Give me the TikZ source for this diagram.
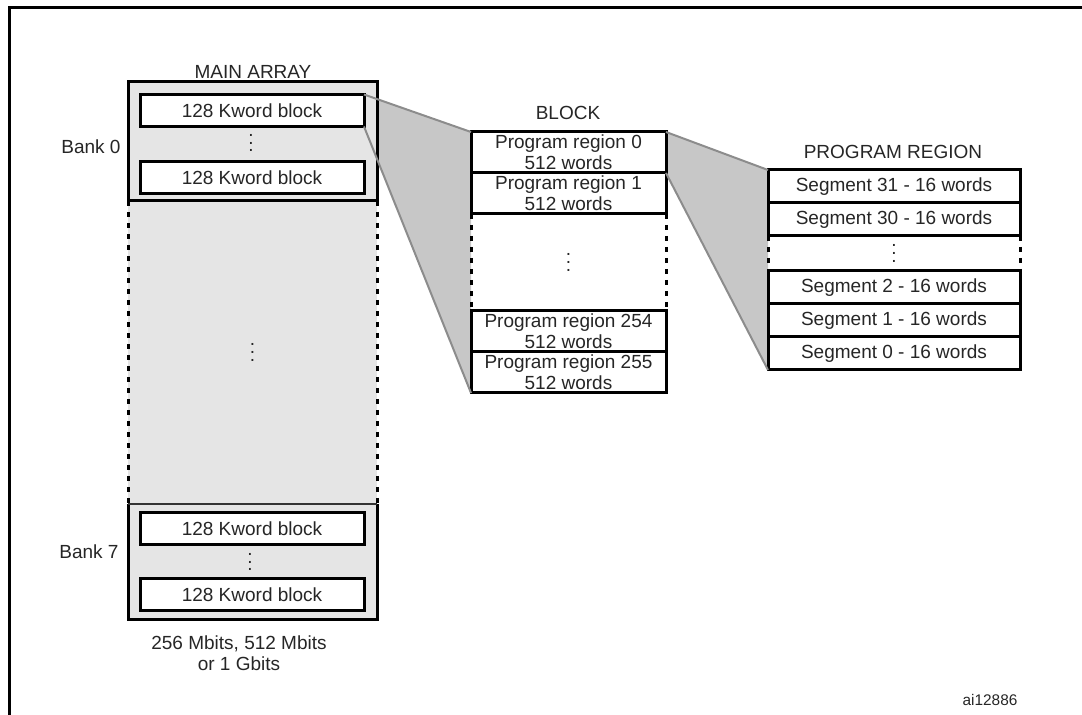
\documentclass[tikz,border=0pt]{standalone}
\usepackage{fontspec}
\setmainfont{Liberation Sans}
\usetikzlibrary{positioning, backgrounds}
\tikzstyle{bank} = [rectangle, fill=black!10, draw=black, line width=1.5pt, minimum width=124.5pt, inner sep=0pt, outer sep=0pt]
\tikzstyle{kblock} = [rectangle, fill=white, draw=black, line width=1.5pt, minimum width=112pt, minimum height=16pt, inner sep=0pt, outer sep=0pt]
\tikzstyle{region} = [rectangle, fill=white, draw=black, line width=1.5pt, minimum width=97.5pt, minimum height=20.5pt, inner sep=0pt, outer sep=0pt, align=center]
\tikzstyle{segment} = [rectangle, fill=white, draw=black, line width=1.5pt, minimum width=126pt, minimum height=16.5pt, inner sep=0pt, outer sep=0pt]
\tikzstyle{gapbox} = [rectangle, inner sep=0pt, outer sep=0pt]
\tikzstyle{dotmark} = [inner sep=0pt, outer sep=0pt]
\tikzstyle{dashside} = [line width=1.5pt, dash pattern=on 2.75pt off 2.75pt]
\tikzstyle{fan} = [fill=black!22]
\tikzstyle{fanedge} = [draw=black!45, line width=1pt]
\newcommand{\vdotsmark}{\vbox{\baselineskip=3.8pt\lineskiplimit=0pt\hbox{.}\hbox{.}\hbox{.}}}

\begin{document}
\begin{tikzpicture}[x=0.5pt, y=-0.5pt, font=\fontsize{9.5}{10.5}\selectfont, text=black!85]

    \useasboundingbox (0,0) rectangle (1082,715);

    \draw [line width=1.5pt] (9,715) -- (9,7.5) -- (1082,7.5);

    % main array
    \node (mid) [bank, draw=none, minimum height=151.5pt] at (252.5,352.5) {\vdotsmark};
    \node (bank0) [bank, minimum height=59.5pt, above=0pt of mid] {};
    \node (bank7) [bank, draw=none, minimum height=58pt, below=0pt of mid] {};

    \draw [dashside] (mid.north west) -- (mid.south west);
    \draw [dashside] (mid.north east) -- (mid.south east);
    \draw [line width=1.5pt] (bank7.north west) -- (bank7.south west) -- (bank7.south east) -- (bank7.north east);
    \draw [line width=1pt, black!80] (bank7.north west) -- (bank7.north east);

    \node (kw0a) [kblock] at (252,110.5) {128 Kword block};
    \node (dots0) [dotmark] at (251,143) {\vdotsmark};
    \node (kw0b) [kblock] at (252,178) {128 Kword block};
    \node (kw7a) [kblock] at (252,529) {128 Kword block};
    \node (dots7) [dotmark] at (250,562) {\vdotsmark};
    \node (kw7b) [kblock] at (252,594.5) {128 Kword block};

    \node (mainlbl) at (253,72) {MAIN ARRAY};
    \node (bank0lbl) at (91,147) {Bank 0};
    \node (bank7lbl) at (89,552) {Bank 7};
    \node (sizelbl) [align=center] at (239,653.5) {256 Mbits, 512 Mbits\\or 1 Gbits};

    % block
    \node (blocklbl) at (568,113) {BLOCK};
    \node (r0) [region] at (568.5,152.5) {Program region 0\\512 words};
    \node (r1) [region, below=0pt of r0] {Program region 1\\512 words};
    \node (bgap) [gapbox, minimum width=97.5pt, minimum height=48.5pt, below=0pt of r1] {\vdotsmark};
    \node (r254) [region, below=0pt of bgap] {Program region 254\\512 words};
    \node (r255) [region, below=0pt of r254] {Program region 255\\512 words};

    \draw [dashside] (bgap.north west) -- (bgap.south west);
    \draw [dashside] (bgap.north east) -- (bgap.south east);

    % program region
    \node (prlbl) at (893,152) {PROGRAM REGION};
    \node (s31) [segment] at (894,186.5) {Segment 31 - 16 words};
    \node (s30) [segment, below=0pt of s31] {Segment 30 - 16 words};
    \node (sgap) [gapbox, minimum width=126pt, minimum height=17.5pt, below=0pt of s30] {\vdotsmark};
    \node (s2) [segment, below=0pt of sgap] {Segment 2 - 16 words};
    \node (s1) [segment, below=0pt of s2] {Segment 1 - 16 words};
    \node (s0) [segment, below=0pt of s1] {Segment 0 - 16 words};

    \draw [dashside] (sgap.north west) -- (sgap.south west);
    \draw [dashside] (sgap.north east) -- (sgap.south east);

    % zoom fans
    \begin{scope}[on background layer]
        \fill [fan] (kw0a.north east) -- (r0.north west) -- (r255.south west) -- (kw0a.south east) -- cycle;
        \fill [fan] (r0.north east) -- (s31.north west) -- (s0.south west) -- (r0.south east) -- cycle;
    \end{scope}

    \draw [fanedge] (kw0a.north east) -- (r0.north west);
    \draw [fanedge] (kw0a.south east) -- (r255.south west);
    \draw [fanedge] (r0.north east) -- (s31.north west);
    \draw [fanedge] (r0.south east) -- (s0.south west);

    \node (figid) [font=\fontsize{7.7}{9}\selectfont] at (990,700) {ai12886};

\end{tikzpicture}
\end{document}
